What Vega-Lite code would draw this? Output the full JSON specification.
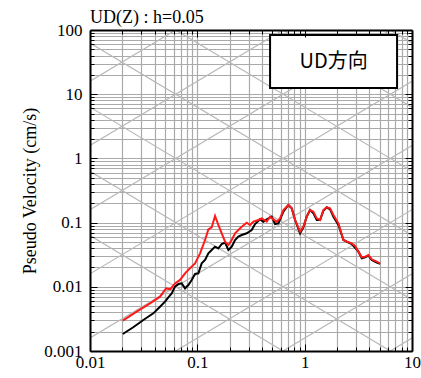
{
  "$schema": "https://vega.github.io/schema/vega-lite/v6.json",
  "width": 322,
  "height": 321,
  "autosize": {"type": "none"},
  "padding": {"left": 90, "top": 30, "right": 9, "bottom": 27},
  "background": "white",
  "config": {
    "view": {"stroke": null},
    "font": "Liberation Serif"
  },
  "title": {
    "text": "UD(Z) : h=0.05",
    "anchor": "start",
    "frame": "group",
    "font": "Liberation Serif",
    "fontSize": 18,
    "fontWeight": "normal",
    "color": "black",
    "offset": -6
  },
  "datasets": {
    "diag": [
      {"id": "a-3", "T": 0.01, "Sv": 0.0000015915}, {"id": "a-3", "T": 10, "Sv": 0.0015915},
      {"id": "a-2", "T": 0.01, "Sv": 0.000015915}, {"id": "a-2", "T": 10, "Sv": 0.015915},
      {"id": "a-1", "T": 0.01, "Sv": 0.00015915}, {"id": "a-1", "T": 10, "Sv": 0.15915},
      {"id": "a0", "T": 0.01, "Sv": 0.0015915}, {"id": "a0", "T": 10, "Sv": 1.5915},
      {"id": "a1", "T": 0.01, "Sv": 0.015915}, {"id": "a1", "T": 10, "Sv": 15.915},
      {"id": "a2", "T": 0.01, "Sv": 0.15915}, {"id": "a2", "T": 10, "Sv": 159.15},
      {"id": "a3", "T": 0.01, "Sv": 1.5915}, {"id": "a3", "T": 10, "Sv": 1591.5},
      {"id": "a4", "T": 0.01, "Sv": 15.915}, {"id": "a4", "T": 10, "Sv": 15915},
      {"id": "d-4", "T": 0.01, "Sv": 0.062832}, {"id": "d-4", "T": 10, "Sv": 0.000062832},
      {"id": "d-3", "T": 0.01, "Sv": 0.62832}, {"id": "d-3", "T": 10, "Sv": 0.00062832},
      {"id": "d-2", "T": 0.01, "Sv": 6.2832}, {"id": "d-2", "T": 10, "Sv": 0.0062832},
      {"id": "d-1", "T": 0.01, "Sv": 62.832}, {"id": "d-1", "T": 10, "Sv": 0.062832},
      {"id": "d0", "T": 0.01, "Sv": 628.32}, {"id": "d0", "T": 10, "Sv": 0.62832},
      {"id": "d1", "T": 0.01, "Sv": 6283.2}, {"id": "d1", "T": 10, "Sv": 6.2832},
      {"id": "d2", "T": 0.01, "Sv": 62832}, {"id": "d2", "T": 10, "Sv": 62.832},
      {"id": "d3", "T": 0.01, "Sv": 628320}, {"id": "d3", "T": 10, "Sv": 628.32}
    ],
    "curves": [
      {"s": "black", "T": 0.0202, "Sv": 0.00184},
      {"s": "black", "T": 0.0253, "Sv": 0.00234},
      {"s": "black", "T": 0.0314, "Sv": 0.00304},
      {"s": "black", "T": 0.0389, "Sv": 0.00386},
      {"s": "black", "T": 0.0449, "Sv": 0.0049},
      {"s": "black", "T": 0.05, "Sv": 0.00587},
      {"s": "black", "T": 0.0537, "Sv": 0.00686},
      {"s": "black", "T": 0.0577, "Sv": 0.00791},
      {"s": "black", "T": 0.062, "Sv": 0.01005},
      {"s": "black", "T": 0.0666, "Sv": 0.01105},
      {"s": "black", "T": 0.0715, "Sv": 0.01132},
      {"s": "black", "T": 0.0768, "Sv": 0.00947},
      {"s": "black", "T": 0.0825, "Sv": 0.01067},
      {"s": "black", "T": 0.0886, "Sv": 0.01276},
      {"s": "black", "T": 0.0952, "Sv": 0.01583},
      {"s": "black", "T": 0.1022, "Sv": 0.01621},
      {"s": "black", "T": 0.1098, "Sv": 0.0232},
      {"s": "black", "T": 0.118, "Sv": 0.0262},
      {"s": "black", "T": 0.1267, "Sv": 0.0332},
      {"s": "black", "T": 0.1361, "Sv": 0.0374},
      {"s": "black", "T": 0.1462, "Sv": 0.0422},
      {"s": "black", "T": 0.157, "Sv": 0.0397},
      {"s": "black", "T": 0.1687, "Sv": 0.0464},
      {"s": "black", "T": 0.1812, "Sv": 0.0487},
      {"s": "black", "T": 0.1946, "Sv": 0.0374},
      {"s": "black", "T": 0.2091, "Sv": 0.0422},
      {"s": "black", "T": 0.2246, "Sv": 0.0536},
      {"s": "black", "T": 0.2412, "Sv": 0.0604},
      {"s": "black", "T": 0.2592, "Sv": 0.0641},
      {"s": "black", "T": 0.2885, "Sv": 0.0681},
      {"s": "black", "T": 0.3211, "Sv": 0.0767},
      {"s": "black", "T": 0.3449, "Sv": 0.0951},
      {"s": "black", "T": 0.384, "Sv": 0.1124},
      {"s": "black", "T": 0.4124, "Sv": 0.1034},
      {"s": "black", "T": 0.4431, "Sv": 0.1124},
      {"s": "black", "T": 0.4932, "Sv": 0.1237},
      {"s": "black", "T": 0.5299, "Sv": 0.0951},
      {"s": "black", "T": 0.5692, "Sv": 0.0974},
      {"s": "black", "T": 0.6335, "Sv": 0.148},
      {"s": "black", "T": 0.7055, "Sv": 0.188},
      {"s": "black", "T": 0.7577, "Sv": 0.1668},
      {"s": "black", "T": 0.814, "Sv": 0.1098},
      {"s": "black", "T": 0.906, "Sv": 0.0681},
      {"s": "black", "T": 0.9732, "Sv": 0.0844},
      {"s": "black", "T": 1.045, "Sv": 0.1237},
      {"s": "black", "T": 1.123, "Sv": 0.1571},
      {"s": "black", "T": 1.206, "Sv": 0.1395},
      {"s": "black", "T": 1.296, "Sv": 0.1098},
      {"s": "black", "T": 1.392, "Sv": 0.1098},
      {"s": "black", "T": 1.495, "Sv": 0.1534},
      {"s": "black", "T": 1.606, "Sv": 0.1729},
      {"s": "black", "T": 1.725, "Sv": 0.161},
      {"s": "black", "T": 1.853, "Sv": 0.1237},
      {"s": "black", "T": 2.063, "Sv": 0.0918},
      {"s": "black", "T": 2.296, "Sv": 0.0536},
      {"s": "black", "T": 2.746, "Sv": 0.0464},
      {"s": "black", "T": 3.168, "Sv": 0.0353},
      {"s": "black", "T": 3.403, "Sv": 0.0278},
      {"s": "black", "T": 3.655, "Sv": 0.0288},
      {"s": "black", "T": 3.926, "Sv": 0.0305},
      {"s": "black", "T": 4.217, "Sv": 0.0262},
      {"s": "black", "T": 4.696, "Sv": 0.0238},
      {"s": "black", "T": 5.044, "Sv": 0.0227},
      {"s": "red", "T": 0.0202, "Sv": 0.00297},
      {"s": "red", "T": 0.0272, "Sv": 0.0041},
      {"s": "red", "T": 0.0362, "Sv": 0.00553},
      {"s": "red", "T": 0.0449, "Sv": 0.00702},
      {"s": "red", "T": 0.0511, "Sv": 0.00947},
      {"s": "red", "T": 0.0557, "Sv": 0.00913},
      {"s": "red", "T": 0.062, "Sv": 0.0113},
      {"s": "red", "T": 0.069, "Sv": 0.0128},
      {"s": "red", "T": 0.0768, "Sv": 0.0162},
      {"s": "red", "T": 0.0855, "Sv": 0.0194},
      {"s": "red", "T": 0.0952, "Sv": 0.0232},
      {"s": "red", "T": 0.106, "Sv": 0.0332},
      {"s": "red", "T": 0.118, "Sv": 0.0536},
      {"s": "red", "T": 0.1267, "Sv": 0.0785},
      {"s": "red", "T": 0.1361, "Sv": 0.0844},
      {"s": "red", "T": 0.1462, "Sv": 0.1267},
      {"s": "red", "T": 0.157, "Sv": 0.0918},
      {"s": "red", "T": 0.1687, "Sv": 0.0681},
      {"s": "red", "T": 0.1812, "Sv": 0.0505},
      {"s": "red", "T": 0.1946, "Sv": 0.0448},
      {"s": "red", "T": 0.2091, "Sv": 0.0536},
      {"s": "red", "T": 0.2246, "Sv": 0.0681},
      {"s": "red", "T": 0.2412, "Sv": 0.0767},
      {"s": "red", "T": 0.2592, "Sv": 0.0864},
      {"s": "red", "T": 0.2885, "Sv": 0.0998},
      {"s": "red", "T": 0.3098, "Sv": 0.0918},
      {"s": "red", "T": 0.3328, "Sv": 0.1034},
      {"s": "red", "T": 0.3705, "Sv": 0.1098},
      {"s": "red", "T": 0.398, "Sv": 0.1165},
      {"s": "red", "T": 0.4431, "Sv": 0.1034},
      {"s": "red", "T": 0.476, "Sv": 0.1237},
      {"s": "red", "T": 0.5112, "Sv": 0.1124},
      {"s": "red", "T": 0.5492, "Sv": 0.1034},
      {"s": "red", "T": 0.5898, "Sv": 0.1165},
      {"s": "red", "T": 0.6335, "Sv": 0.1571},
      {"s": "red", "T": 0.7055, "Sv": 0.188},
      {"s": "red", "T": 0.7577, "Sv": 0.1668},
      {"s": "red", "T": 0.814, "Sv": 0.1098},
      {"s": "red", "T": 0.906, "Sv": 0.0722},
      {"s": "red", "T": 0.9732, "Sv": 0.0864},
      {"s": "red", "T": 1.045, "Sv": 0.1237},
      {"s": "red", "T": 1.123, "Sv": 0.1571},
      {"s": "red", "T": 1.206, "Sv": 0.148},
      {"s": "red", "T": 1.296, "Sv": 0.1165},
      {"s": "red", "T": 1.392, "Sv": 0.1098},
      {"s": "red", "T": 1.495, "Sv": 0.1571},
      {"s": "red", "T": 1.606, "Sv": 0.1729},
      {"s": "red", "T": 1.725, "Sv": 0.1668},
      {"s": "red", "T": 1.853, "Sv": 0.1313},
      {"s": "red", "T": 2.063, "Sv": 0.0974},
      {"s": "red", "T": 2.296, "Sv": 0.0536},
      {"s": "red", "T": 2.466, "Sv": 0.0505},
      {"s": "red", "T": 2.746, "Sv": 0.0475},
      {"s": "red", "T": 2.95, "Sv": 0.0432},
      {"s": "red", "T": 3.168, "Sv": 0.0353},
      {"s": "red", "T": 3.403, "Sv": 0.0288},
      {"s": "red", "T": 3.655, "Sv": 0.0295},
      {"s": "red", "T": 3.926, "Sv": 0.0313},
      {"s": "red", "T": 4.217, "Sv": 0.0268},
      {"s": "red", "T": 4.696, "Sv": 0.0246},
      {"s": "red", "T": 5.044, "Sv": 0.0232}
    ]
  },
  "resolve": {"axis": {"x": "independent", "y": "independent"}},
  "layer": [
    {
      "data": {"name": "diag"},
      "mark": {"type": "line", "clip": true, "stroke": "#b8b8b8", "strokeWidth": 1.2},
      "encoding": {
        "x": {
          "field": "T", "type": "quantitative",
          "scale": {"type": "log", "domain": [0.01, 10], "nice": false},
          "axis": {
            "orient": "bottom", "title": null, "domain": false, "ticks": false,
            "grid": true, "gridColor": "#aaaaaa", "gridWidth": 1.2,
            "values": [0.01,0.02,0.03,0.04,0.05,0.06,0.07,0.08,0.09,0.1,0.2,0.3,0.4,0.5,0.6,0.7,0.8,0.9,1,2,3,4,5,6,7,8,9,10],
            "format": "~g",
            "labelExpr": "indexof([0.01,0.1,1,10], datum.value) >= 0 ? datum.label : ''",
            "labelOverlap": false, "labelFlush": false, "labelBound": false,
            "labelFont": "Liberation Serif", "labelFontSize": 17, "labelColor": "black",
            "labelPadding": 3, "zindex": 0
          }
        },
        "y": {
          "field": "Sv", "type": "quantitative",
          "scale": {"type": "log", "domain": [0.001, 100], "nice": false},
          "axis": {
            "orient": "left", "title": "Pseudo Velocity (cm/s)",
            "titleFont": "Liberation Serif", "titleFontSize": 18, "titleFontWeight": "normal",
            "titleColor": "black", "titlePadding": 4,
            "domain": false, "ticks": false,
            "grid": true, "gridColor": "#aaaaaa", "gridWidth": 1.2,
            "values": [0.001,0.002,0.003,0.004,0.005,0.006,0.007,0.008,0.009,0.01,0.02,0.03,0.04,0.05,0.06,0.07,0.08,0.09,0.1,0.2,0.3,0.4,0.5,0.6,0.7,0.8,0.9,1,2,3,4,5,6,7,8,9,10,20,30,40,50,60,70,80,90,100],
            "format": "~g",
            "labelExpr": "indexof([0.001,0.01,0.1,1,10,100], datum.value) >= 0 ? datum.label : ''",
            "labelOverlap": false, "labelFlush": false, "labelBound": false,
            "labelFont": "Liberation Serif", "labelFontSize": 17, "labelColor": "black",
            "labelPadding": 8, "zindex": 0
          }
        },
        "detail": {"field": "id", "type": "nominal"}
      }
    },
    {
      "data": {"name": "curves"},
      "transform": [{"filter": "datum.s == 'black'"}],
      "mark": {"type": "line", "clip": true, "stroke": "black", "strokeWidth": 2},
      "encoding": {
        "x": {
          "field": "T", "type": "quantitative",
          "scale": {"type": "log", "domain": [0.01, 10], "nice": false},
          "axis": {
            "orient": "top", "title": null, "labels": false, "grid": false,
            "domain": true, "domainColor": "black", "domainWidth": 2,
            "ticks": true, "tickColor": "black", "tickWidth": 1,
            "tickSize": {"condition": {"test": "indexof([0.01,0.1,1,10], datum.value) >= 0", "value": -7}, "value": -4},
            "values": [0.01,0.02,0.03,0.04,0.05,0.06,0.07,0.08,0.09,0.1,0.2,0.3,0.4,0.5,0.6,0.7,0.8,0.9,1,2,3,4,5,6,7,8,9,10],
            "zindex": 1
          }
        },
        "y": {
          "field": "Sv", "type": "quantitative",
          "scale": {"type": "log", "domain": [0.001, 100], "nice": false},
          "axis": {
            "orient": "right", "title": null, "labels": false, "grid": false,
            "domain": true, "domainColor": "black", "domainWidth": 2,
            "ticks": true, "tickColor": "black", "tickWidth": 1,
            "tickSize": {"condition": {"test": "indexof([0.001,0.01,0.1,1,10,100], datum.value) >= 0", "value": -7}, "value": -4},
            "values": [0.001,0.002,0.003,0.004,0.005,0.006,0.007,0.008,0.009,0.01,0.02,0.03,0.04,0.05,0.06,0.07,0.08,0.09,0.1,0.2,0.3,0.4,0.5,0.6,0.7,0.8,0.9,1,2,3,4,5,6,7,8,9,10,20,30,40,50,60,70,80,90,100],
            "zindex": 1
          }
        }
      }
    },
    {
      "data": {"name": "curves"},
      "transform": [{"filter": "datum.s == 'red'"}],
      "mark": {"type": "line", "clip": true, "stroke": "#ff1a1a", "strokeWidth": 2},
      "encoding": {
        "x": {
          "field": "T", "type": "quantitative",
          "scale": {"type": "log", "domain": [0.01, 10], "nice": false},
          "axis": {
            "orient": "bottom", "title": null, "labels": false, "grid": false,
            "domain": true, "domainColor": "black", "domainWidth": 2,
            "ticks": true, "tickColor": "black", "tickWidth": 1,
            "tickSize": {"condition": {"test": "indexof([0.01,0.1,1,10], datum.value) >= 0", "value": -7}, "value": -4},
            "values": [0.01,0.02,0.03,0.04,0.05,0.06,0.07,0.08,0.09,0.1,0.2,0.3,0.4,0.5,0.6,0.7,0.8,0.9,1,2,3,4,5,6,7,8,9,10],
            "zindex": 1
          }
        },
        "y": {
          "field": "Sv", "type": "quantitative",
          "scale": {"type": "log", "domain": [0.001, 100], "nice": false},
          "axis": {
            "orient": "left", "title": null, "labels": false, "grid": false,
            "domain": true, "domainColor": "black", "domainWidth": 2,
            "ticks": true, "tickColor": "black", "tickWidth": 1,
            "tickSize": {"condition": {"test": "indexof([0.001,0.01,0.1,1,10,100], datum.value) >= 0", "value": -7}, "value": -4},
            "values": [0.001,0.002,0.003,0.004,0.005,0.006,0.007,0.008,0.009,0.01,0.02,0.03,0.04,0.05,0.06,0.07,0.08,0.09,0.1,0.2,0.3,0.4,0.5,0.6,0.7,0.8,0.9,1,2,3,4,5,6,7,8,9,10,20,30,40,50,60,70,80,90,100],
            "zindex": 1
          }
        }
      }
    },
    {
      "data": {"values": [{"label": "UD方向"}]},
      "mark": {"type": "rect", "fill": "white", "stroke": "black", "strokeWidth": 2},
      "encoding": {
        "x": {"datum": 0.476, "type": "quantitative", "scale": {"type": "log", "domain": [0.01, 10], "nice": false}, "axis": null},
        "x2": {"datum": 7.26},
        "y": {"datum": 83.6, "type": "quantitative", "scale": {"type": "log", "domain": [0.001, 100], "nice": false}, "axis": null},
        "y2": {"datum": 12.5}
      }
    },
    {
      "data": {"values": [{"label": "UD方向"}]},
      "mark": {"type": "text", "font": "Noto Sans CJK JP", "fontSize": 20, "align": "center", "baseline": "middle", "color": "black"},
      "encoding": {
        "x": {"datum": 1.86, "type": "quantitative", "scale": {"type": "log", "domain": [0.01, 10], "nice": false}, "axis": null},
        "y": {"datum": 31.7, "type": "quantitative", "scale": {"type": "log", "domain": [0.001, 100], "nice": false}, "axis": null},
        "text": {"field": "label", "type": "nominal"}
      }
    }
  ]
}
